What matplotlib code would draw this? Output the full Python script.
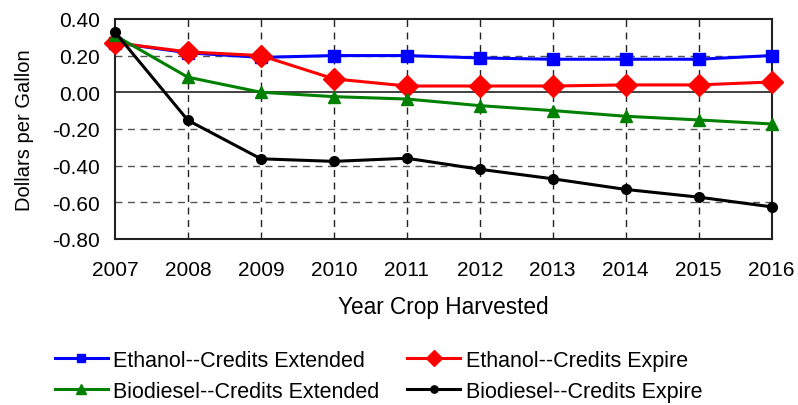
"""
Net returns per gallon for ethanol and biodiesel under credit scenarios.
"""

import matplotlib.pyplot as plt
from matplotlib.lines import Line2D

years = [2007, 2008, 2009, 2010, 2011, 2012, 2013, 2014, 2015, 2016]
ethanol_extended = [0.27, 0.215, 0.19, 0.20, 0.20, 0.187, 0.18, 0.18, 0.18, 0.20]
ethanol_expire = [0.27, 0.22, 0.20, 0.073, 0.034, 0.034, 0.034, 0.04, 0.04, 0.056]
biodiesel_extended = [0.31, 0.082, 0.0, -0.024, -0.037, -0.073, -0.10, -0.131, -0.151, -0.173]
biodiesel_expire = [0.328, -0.153, -0.363, -0.377, -0.36, -0.42, -0.472, -0.53, -0.572, -0.625]
y_ticks = [0.40, 0.20, 0.00, -0.20, -0.40, -0.60, -0.80]

plt.rcParams["font.family"] = ["Liberation Sans", "DejaVu Sans"]

fig = plt.figure(figsize=(7.98, 4.06), dpi=100)
ax = fig.add_axes([0.144, 0.409, 0.823, 0.542])

# grid: grey dashed horizontals, black dashed verticals
for yv in y_ticks[1:-1]:
    if yv == 0:
        ax.axhline(yv, color="#333333", lw=1.3, zorder=1)
    else:
        ax.axhline(yv, color="#555555", lw=1.0, ls=(0, (5, 4)), zorder=1)
for xv in years[1:-1]:
    ax.axvline(xv, color="#222222", lw=1.0, ls=(0, (5, 4)), zorder=1)

series = [
    (ethanol_extended, "#0000ff", "s", 8.5, "Ethanol--Credits Extended"),
    (ethanol_expire, "#ff0000", "D", 11, "Ethanol--Credits Expire"),
    (biodiesel_extended, "#008000", "^", 9, "Biodiesel--Credits Extended"),
    (biodiesel_expire, "#000000", "o", 7, "Biodiesel--Credits Expire"),
]
for vals, col, mk, ms, lab in series:
    ax.plot(years, vals, color=col, marker=mk, markersize=ms, lw=2.2,
            label=lab, zorder=3, clip_on=False)

ax.set_xlim(2007, 2016)
ax.set_ylim(-0.80, 0.40)
ax.set_xticks(years)
ax.set_xticklabels([str(y) for y in years], fontsize=15)
ax.set_yticks(y_ticks)
ax.set_yticklabels([f"{v:.2f}" for v in y_ticks], fontsize=15)
ax.tick_params(axis="x", length=0, pad=15.5)
ax.tick_params(axis="y", length=0, pad=11)
for sp in ax.spines.values():
    sp.set_linewidth(1.5)
    sp.set_color("#222222")

ax.set_ylabel("Dollars per Gallon", fontsize=14.5, labelpad=13)
ax.set_xlabel("Year Crop Harvested", fontsize=16.3, labelpad=11)

# matplotlib fills legend columns first, so order for row-wise reading
order = [0, 2, 1, 3]
handles = [Line2D([], [], color=series[i][1], marker=series[i][2],
                  markersize=series[i][3] * 0.75, lw=2.2) for i in order]
labels = [series[i][4] for i in order]
fig.legend(handles, labels, loc="center left", bbox_to_anchor=(0.069, 0.072),
           ncol=2, frameon=False, prop={"size": 15.5},
           borderpad=0, borderaxespad=0,
           handlelength=2.45, handletextpad=0.25, columnspacing=1.3,
           labelspacing=0.45)

fig.savefig("out.png", dpi=100)
